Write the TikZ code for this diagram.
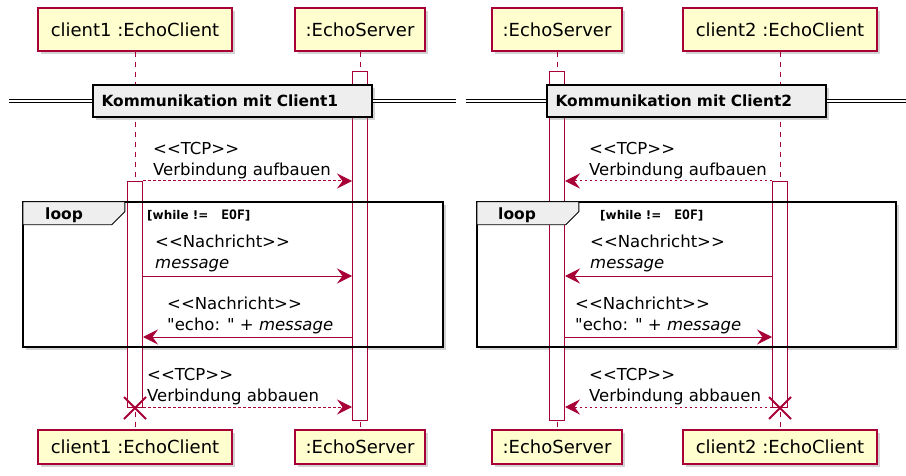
\documentclass[tikz,border=0pt]{standalone}
\usepackage{fontspec}
\setmainfont{DejaVu Sans}[Ligatures=TeXOff]
\setmonofont{DejaVu Sans Mono}[Ligatures=TeXOff]
\usetikzlibrary{positioning,arrows.meta,shadows}
\definecolor{umlred}{HTML}{A80036}
\definecolor{umlfill}{HTML}{FEFECE}
\definecolor{umlgrey}{HTML}{EEEEEE}

\begin{document}
\begin{tikzpicture}[x=1pt, y=-1pt,
        every node/.style={font=\fontsize{16.5}{21}\selectfont},
        umlshadow/.style={drop shadow={shadow xshift=3pt, shadow yshift=-3pt, opacity=0.35}},
        actor/.style={draw=umlred, line width=1.2pt, fill=umlfill, minimum width=194pt, minimum height=43pt, inner sep=0pt, font=\fontsize{18}{22}\selectfont, umlshadow},
        actorbot/.style={actor, minimum height=34pt},
        act/.style={draw=umlred, fill=white, line width=1pt, minimum width=15pt, inner sep=0pt, anchor=north},
        lifeline/.style={draw=umlred, line width=0.9pt, dash pattern=on 5pt off 5pt},
        msg/.style={draw=umlred, line width=1pt, -{Stealth[length=15pt, width=15pt, inset=5.5pt]}},
        dotmsg/.style={msg, dash pattern=on 2.5pt off 2.5pt},
        lbl/.style={anchor=south west, inner sep=0pt, align=left},
        divbox/.style={draw=black, line width=2pt, fill=umlgrey, minimum height=32pt, text width=262pt, inner xsep=8.5pt, align=left, font=\fontsize{15.4}{18}\selectfont\bfseries, umlshadow},
        divline/.style={draw=black, line width=1.2pt, double=white, double distance=1.8pt},
        loopframe/.style={fill=white, minimum height=145pt, inner sep=0pt, umlshadow},
        loopborder/.style={draw=black, line width=2.2pt},
        looptab/.style={draw=black, line width=0.9pt, fill=umlgrey},
        loopword/.style={anchor=base west, inner sep=0pt, font=\fontsize{15.5}{18}\selectfont\bfseries},
        guard/.style={anchor=base west, inner sep=0pt, font=\fontsize{12}{14}\selectfont\bfseries},
        killmark/.style={draw=umlred, line width=2pt}
    ]
    \useasboundingbox (0,0) rectangle (906,476);

    % Participants
    \node[actor] (c1top) at (135,29.5) {client1 :EchoClient};
    \node[actor, minimum width=130pt] (s1top) at (360,29.5) {:EchoServer};
    \node[actor, minimum width=130pt] (s2top) at (557,29.5) {:EchoServer};
    \node[actor] (c2top) at (780,29.5) {client2 :EchoClient};

    \node[actorbot] (c1bot) at (135,447) {client1 :EchoClient};
    \node[actorbot, minimum width=130pt] (s1bot) at (360,447) {:EchoServer};
    \node[actorbot, minimum width=130pt] (s2bot) at (557,447) {:EchoServer};
    \node[actorbot] (c2bot) at (780,447) {client2 :EchoClient};

    % Loop areas (behind the lifelines)
    \node[loopframe, minimum width=420pt] (loop1) at (233,274.5) {};
    \node[loopframe, minimum width=419pt] (loop2) at (686.5,274.5) {};

    % Lifelines
    \draw[lifeline] (c1top) -- (c1bot);
    \draw[lifeline] (s1top) -- (s1bot);
    \draw[lifeline] (s2top) -- (s2bot);
    \draw[lifeline] (c2top) -- (c2bot);

    % Activations
    \node[act, minimum height=349pt] (s1act) at (360,71) {};
    \node[act, minimum height=349pt] (s2act) at (557,71) {};
    \node[act, minimum height=226pt] (c1act) at (135,181) {};
    \node[act, minimum height=226pt] (c2act) at (780,181) {};

    % Dividers
    \node[divbox] (div1) at (232.5,101) {Kommunikation mit Client1};
    \node[divbox] (div2) at (686.5,101) {Kommunikation mit Client2};
    \draw[divline] (div1.west) -- ++(-83,0);
    \draw[divline] (div1.east) -- ++(83,0);
    \draw[divline] (div2.west) -- ++(-80,0);
    \draw[divline] (div2.east) -- ++(79,0);

    % Loop frames
    \draw[loopborder] (loop1.north west) rectangle (loop1.south east);
    \draw[loopborder] (loop2.north west) rectangle (loop2.south east);
    \draw[looptab] (loop1.north west) -- ++(102,0) -- ++(0,10) -- ++(-13,13) -- ++(-89,0) -- cycle;
    \draw[looptab] (loop2.north west) -- ++(102,0) -- ++(0,10) -- ++(-13,13) -- ++(-89,0) -- cycle;
    \node[loopword] (lw1) at (45,219) {loop};
    \node[loopword] (lw2) at (498,219) {loop};
    \node[guard] (g1) at (147,219) {[while !=\hspace{13pt}{\ttfamily\fontsize{13}{14}\selectfont EOF}]};
    \node[guard] (g2) at (600,219) {[while !=\hspace{13pt}{\ttfamily\fontsize{13}{14}\selectfont EOF}]};

    % Message rows
    \coordinate (r1) at (0,181);
    \coordinate (r2) at (0,276);
    \coordinate (r3) at (0,337);
    \coordinate (r4) at (0,407);

    % Edges
    \draw[dotmsg] (c1act.east |- r1) -- (s1act.west |- r1);
    \draw[msg] (c1act.east |- r2) -- (s1act.west |- r2);
    \draw[msg] (s1act.west |- r3) -- (c1act.east |- r3);
    \draw[dotmsg] (c1act.east |- r4) -- (s1act.west |- r4);

    \draw[dotmsg] (c2act.west |- r1) -- (s2act.east |- r1);
    \draw[msg] (c2act.west |- r2) -- (s2act.east |- r2);
    \draw[msg] (s2act.east |- r3) -- (c2act.west |- r3);
    \draw[dotmsg] (c2act.west |- r4) -- (s2act.east |- r4);

    % Labels
    \node[lbl] (m1l) at (153,179.5) {<<TCP>>\\Verbindung aufbauen};
    \node[lbl] (m2l) at (155,272.5) {<<Nachricht>>\\\textit{message}};
    \node[lbl] (m3l) at (167,334) {<<Nachricht>>\\"echo: " + \textit{message}};
    \node[lbl] (m4l) at (147,405) {<<TCP>>\\Verbindung abbauen};

    \node[lbl] (m1r) at (589,179.5) {<<TCP>>\\Verbindung aufbauen};
    \node[lbl] (m2r) at (590,272.5) {<<Nachricht>>\\\textit{message}};
    \node[lbl] (m3r) at (575,334) {<<Nachricht>>\\"echo: " + \textit{message}};
    \node[lbl] (m4r) at (589,405) {<<TCP>>\\Verbindung abbauen};

    % Destruction
    \draw[killmark] (c1act.south) ++(-11,-11) -- ++(22,22) ++(0,-22) -- ++(-22,22);
    \draw[killmark] (c2act.south) ++(-11,-11) -- ++(22,22) ++(0,-22) -- ++(-22,22);
\end{tikzpicture}
\end{document}
